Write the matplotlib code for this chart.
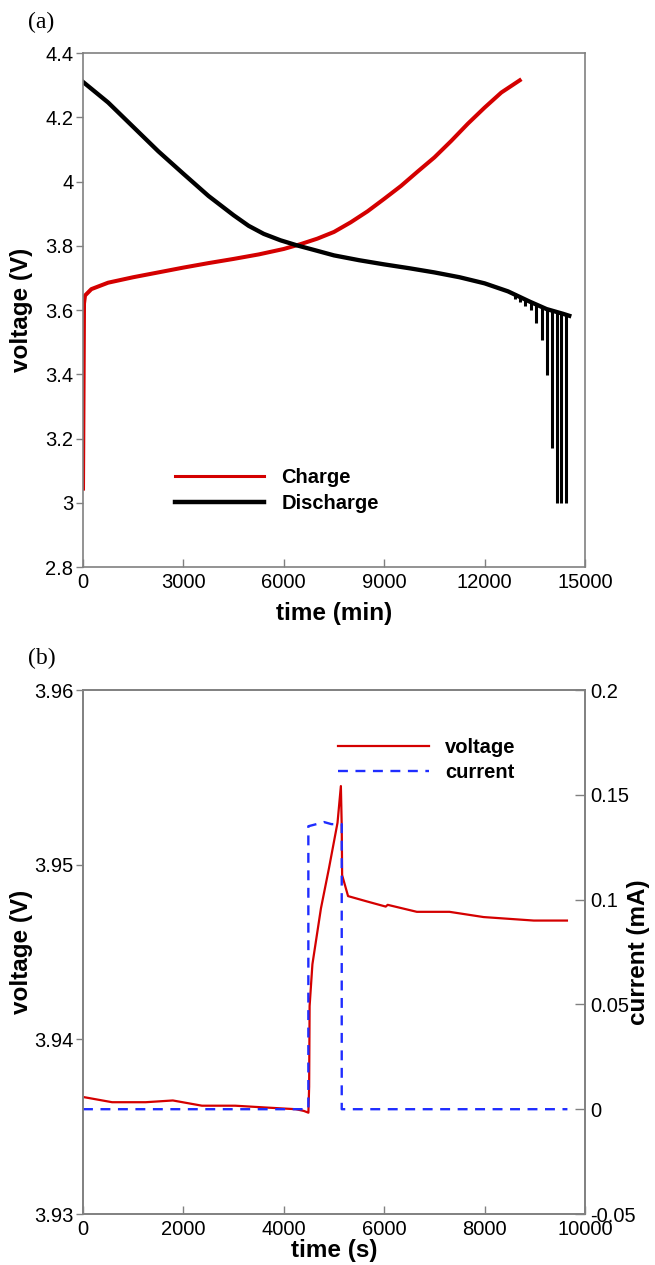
import matplotlib
matplotlib.use('Agg')
import matplotlib.pyplot as plt
from matplotlib.lines import Line2D

plt.rcParams['font.family'] = ['Liberation Sans', 'DejaVu Sans']

# ---- panel (a): GITT charge / discharge curves ----
charge_t = [0, 30, 60, 250, 750, 1500, 2250, 3000, 3750, 4500, 5250, 6000,
            6500, 7000, 7500, 8000, 8500, 9000, 9500, 10000, 10500, 11000,
            11500, 12000, 12500, 13050]
charge_v = [3.044, 3.62, 3.645, 3.665, 3.685, 3.702, 3.717, 3.732, 3.746,
            3.759, 3.773, 3.790, 3.805, 3.822, 3.843, 3.873, 3.907, 3.946,
            3.986, 4.031, 4.075, 4.126, 4.180, 4.230, 4.277, 4.315]

discharge_t = [0, 750, 1500, 2250, 3000, 3750, 4500, 4950, 5400, 5900, 6400,
               6900, 7500, 8250, 9000, 9750, 10500, 11250, 12000, 12700,
               13350, 13850, 14350, 14530]
discharge_v = [4.31, 4.246, 4.170, 4.094, 4.024, 3.955, 3.895, 3.862, 3.837,
               3.817, 3.801, 3.787, 3.770, 3.755, 3.742, 3.730, 3.717, 3.702,
               3.683, 3.658, 3.626, 3.603, 3.588, 3.582]

# deep relaxation spikes at the end of discharge
spike_t = [12900, 13050, 13200, 13400, 13530, 13720, 13870, 14000, 14150,
           14280, 14420]
spike_top = [3.652, 3.645, 3.635, 3.625, 3.62, 3.612, 3.603, 3.598, 3.594,
             3.590, 3.586]
spike_bottom = [3.635, 3.625, 3.612, 3.60, 3.56, 3.506, 3.398, 3.17, 3.0,
                3.0, 3.0]

# ---- panel (b): single pulse ----
pulse_t = [0, 580, 1250, 1790, 2370, 3030, 3620, 4240, 4400, 4490, 4505,
           4514, 4570, 4740, 4900, 5070, 5137, 5154, 5162, 5280, 5650, 6030,
           6070, 6650, 7300, 7980, 8980, 9640]
pulse_v = [3.9367, 3.9364, 3.9364, 3.9365, 3.9362, 3.9362, 3.9361, 3.9360,
           3.9359, 3.9358, 3.9373, 3.9419, 3.9443, 3.9475, 3.9498, 3.9524,
           3.9545, 3.9522, 3.9494, 3.9482, 3.9479, 3.9476, 3.9477, 3.9473,
           3.9473, 3.9470, 3.9468, 3.9468]

current_t = [0, 4489, 4489, 4650, 4800, 4950, 5154, 5154, 9650]
current_i = [0, 0, 0.135, 0.136, 0.137, 0.136, 0.136, 0, 0]

RED = '#d40000'
BLUE = '#1f2dff'
SPINE = '#808080'
LABEL_FS = 17.5
TICK_FS = 14.5
LEG_FS = 14.5

W, H = 655, 1265
fig = plt.figure(figsize=(W / 100, H / 100), dpi=100)


def box(left, top, right, bottom):
    return [left / W, 1 - bottom / H, (right - left) / W, (bottom - top) / H]


def style_axes(ax):
    for sp in ax.spines.values():
        sp.set_color(SPINE)
        sp.set_linewidth(1.2)
    ax.tick_params(axis='x', direction='in', length=6, width=1, color=SPINE,
                   labelsize=TICK_FS, pad=4)
    ax.tick_params(axis='y', direction='out', length=5, width=1, color=SPINE,
                   labelsize=TICK_FS, pad=2)


# panel (a)
ax1 = fig.add_axes(box(83, 53, 585, 567))
ax1.plot(charge_t, charge_v, color=RED, lw=2.9)
ax1.plot(discharge_t, discharge_v, color='black', lw=3.1)
ax1.vlines(spike_t, spike_bottom, spike_top, color='black', lw=2.2)
ax1.set_xlim(0, 15000)
ax1.set_ylim(2.8, 4.4)
ax1.set_xticks([0, 3000, 6000, 9000, 12000, 15000])
ax1.set_yticks([2.8, 3, 3.2, 3.4, 3.6, 3.8, 4, 4.2, 4.4])
ax1.set_yticklabels(['2.8', '3', '3.2', '3.4', '3.6', '3.8', '4', '4.2', '4.4'])
style_axes(ax1)
ax1.set_xlabel('time (min)', fontsize=LABEL_FS, fontweight='bold')
ax1.set_ylabel('voltage (V)', fontsize=LABEL_FS, fontweight='bold')
ax1.yaxis.set_label_coords(-0.10, 0.5)
ax1.xaxis.set_label_coords(0.5, -0.068)
h1 = [Line2D([], [], color=RED, lw=2.2), Line2D([], [], color='black', lw=3.2)]
ax1.legend(h1, ['Charge', 'Discharge'], loc='lower left',
           bbox_to_anchor=(0.148, 0.07), frameon=False, handlelength=4.4,
           handletextpad=0.85, labelspacing=0.35,
           prop={'size': LEG_FS, 'weight': 'bold'})
fig.text(28 / W, 1 - 22 / H, '(a)', fontsize=17, family='Liberation Serif',
         ha='left', va='center')

# panel (b)
ax2 = fig.add_axes(box(83, 690, 585, 1214))
ax2.plot(pulse_t, pulse_v, color=RED, lw=1.6)
ax2.set_xlim(0, 10000)
ax2.set_ylim(3.93, 3.96)
ax2.set_xticks([0, 2000, 4000, 6000, 8000, 10000])
ax2.set_yticks([3.93, 3.94, 3.95, 3.96])
ax2.set_yticklabels(['3.93', '3.94', '3.95', '3.96'])
style_axes(ax2)
ax2.set_xlabel('time (s)', fontsize=LABEL_FS, fontweight='bold')
ax2.set_ylabel('voltage (V)', fontsize=LABEL_FS, fontweight='bold')
ax2.yaxis.set_label_coords(-0.10, 0.5)
ax2.xaxis.set_label_coords(0.5, -0.048)

ax3 = ax2.twinx()
ax3.plot(current_t, current_i, color=BLUE, lw=1.7, dashes=(4.2, 3.2))
ax3.set_ylim(-0.05, 0.2)
ax3.set_yticks([-0.05, 0, 0.05, 0.1, 0.15, 0.2])
ax3.set_yticklabels(['-0.05', '0', '0.05', '0.1', '0.15', '0.2'])
for sp in ax3.spines.values():
    sp.set_color(SPINE)
    sp.set_linewidth(1.2)
ax3.tick_params(axis='y', direction='in', length=7, width=1, color=SPINE,
                labelsize=TICK_FS, pad=4)
ax3.set_ylabel('current (mA)', fontsize=LABEL_FS, fontweight='bold',
               rotation=90)
ax3.yaxis.set_label_coords(1.083, 0.5)

h2 = [Line2D([], [], color=RED, lw=1.6),
      Line2D([], [], color=BLUE, lw=1.7, dashes=(4.2, 3.2))]
ax2.legend(h2, ['voltage', 'current'], loc='lower left',
           bbox_to_anchor=(0.472, 0.79), frameon=False, handlelength=4.5,
           handletextpad=0.8, labelspacing=0.3,
           prop={'size': LEG_FS, 'weight': 'bold'})
fig.text(28 / W, 1 - 658 / H, '(b)', fontsize=17, family='Liberation Serif',
         ha='left', va='center')

fig.savefig('out.png', dpi=100)
